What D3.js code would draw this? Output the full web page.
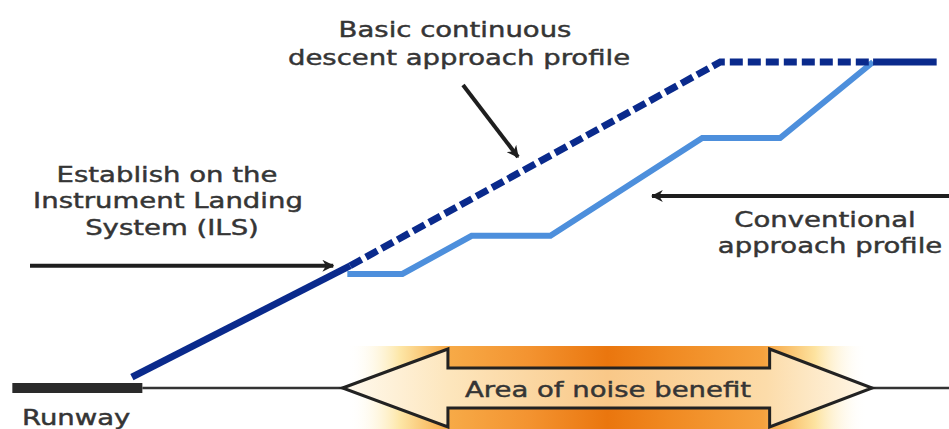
<!DOCTYPE html>
<html>
<head>
<meta charset="utf-8">
<script src="https://cdn.jsdelivr.net/npm/d3@7"></script>
<style>
  body { margin: 0; background: #fff; }
  svg { display: block; }
</style>
</head>
<body>
<div id="chart"></div>
<script>
// Width and height
var w = 949;
var h = 429;

// horizontal position: distance along the approach (0-100), altitude in feet
var cdaDist = [13.9, 36.9, 75.9, 92.0, 98.7];
var cdaAlt  = [200, 2250, 6000, 6000, 6000];

var convDist = [36.6, 42.4, 49.7, 58.0, 74.0, 82.2, 92.0];
var convAlt  = [2100, 2100, 2800, 2800, 4600, 4600, 6000];

var runway = [1.3, 15.0];
var groundEnd = 100;
var noiseArea = [36.1, 47.2, 81.1, 91.9];   // left tip, left head base, right head base, right tip

var cdaLabel = ["Basic continuous", "descent approach profile"];
var ilsLabel = ["Establish on the", "Instrument Landing", "System (ILS)"];
var convLabel = ["Conventional", "approach profile"];
var noiseLabel = "Area of noise benefit";
var runwayLabel = "Runway";

var x = d3.scaleLinear().domain([0, 100]).range([0, w]);
var y = d3.scaleLinear().domain([0, 6000]).range([388, 62]);

var svg = d3.select("#chart")
            .append("svg")
            .attr("width", w)
            .attr("height", h);

var defs = svg.append("defs");

// orange band behind the double arrow
var band = defs.append("linearGradient").attr("id", "band");
[[0, "#ffffff", 0], [0.1, "#fde7a8", 1], [0.19, "#f7ab48", 1], [0.35, "#f39330", 1],
 [0.5, "#ea760e", 1], [0.62, "#f08a22", 1], [0.8, "#f6a23e", 1], [0.9, "#fde3a0", 1], [1, "#ffffff", 0]]
  .forEach(function(s) {
    band.append("stop").attr("offset", s[0]).attr("stop-color", s[1]).attr("stop-opacity", s[2]);
  });

var fill = defs.append("linearGradient").attr("id", "arrowFill");
[[0, "#fffaf0"], [0.2, "#fde6bd"], [0.5, "#f9c888"], [0.8, "#fcdcaa"], [1, "#fff8ea"]]
  .forEach(function(s) {
    fill.append("stop").attr("offset", s[0]).attr("stop-color", s[1]);
  });

defs.append("marker")
    .attr("id", "head")
    .attr("viewBox", "0 0 10 10")
    .attr("refX", 9).attr("refY", 5)
    .attr("markerWidth", 3).attr("markerHeight", 3)
    .attr("orient", "auto")
    .append("path")
    .attr("d", "M0,0 L10,5 L0,10 L3,5 Z")
    .attr("fill", "#1e1e1e");

// noise benefit band + double arrow
var gy = y(0);
svg.append("rect")
   .attr("x", x(noiseArea[0]) + 5)
   .attr("y", gy - 42)
   .attr("width", x(noiseArea[3]) - x(noiseArea[0]) - 10)
   .attr("height", h - (gy - 42))
   .attr("fill", "url(#band)");

// ground line
svg.append("line")
   .attr("x1", x(runway[1])).attr("x2", x(groundEnd))
   .attr("y1", gy).attr("y2", gy)
   .attr("stroke", "#333").attr("stroke-width", 2.5);

var headH = 39, shaftH = 20;
var arrowPts = [
  [x(noiseArea[0]), gy],
  [x(noiseArea[1]), gy - headH],
  [x(noiseArea[1]), gy - shaftH],
  [x(noiseArea[2]), gy - shaftH],
  [x(noiseArea[2]), gy - headH],
  [x(noiseArea[3]), gy],
  [x(noiseArea[2]), gy + headH],
  [x(noiseArea[2]), gy + shaftH],
  [x(noiseArea[1]), gy + shaftH],
  [x(noiseArea[1]), gy + headH]
];
svg.append("polygon")
   .attr("points", arrowPts.map(function(p) { return p.join(","); }).join(" "))
   .attr("fill", "url(#arrowFill)")
   .attr("stroke", "#222")
   .attr("stroke-width", 3)
   .attr("stroke-linejoin", "miter");

// runway
svg.append("line")
   .attr("x1", x(runway[0])).attr("x2", x(runway[1]))
   .attr("y1", gy).attr("y2", gy)
   .attr("stroke", "#2a2a2a").attr("stroke-width", 10);

var line = d3.line()
   .x(function(d) { return x(d[0]); })
   .y(function(d) { return y(d[1]); });

// conventional profile
var conv = convDist.map(function(d, i) { return [d, convAlt[i]]; });
svg.append("path")
   .attr("d", line(conv))
   .attr("fill", "none")
   .attr("stroke", "#4d8fdc")
   .attr("stroke-width", 6)
   .attr("stroke-linejoin", "miter");

// continuous descent profile: ILS segment solid, CDA dashed, level flight solid
var cda = cdaDist.map(function(d, i) { return [d, cdaAlt[i]]; });
var segs = [
  { pts: cda.slice(0, 2), dash: null },
  { pts: cda.slice(1, 4), dash: "13,5" },
  { pts: cda.slice(3, 5), dash: null }
];
svg.selectAll("path.cda")
   .data(segs)
   .enter()
   .append("path")
   .attr("class", "cda")
   .attr("d", function(d) { return line(d.pts); })
   .attr("fill", "none")
   .attr("stroke", "#0a2a8c")
   .attr("stroke-width", 7)
   .attr("stroke-dasharray", function(d) { return d.dash; });

// pointer arrows
var ilsX = x(cdaDist[1]), ilsY = y(cdaAlt[1]);
var arrows = [
  [30, ilsY, ilsX - 17, ilsY],
  [463, 85, 518, 157],
  [w, 196, 652, 196]
];
svg.selectAll("line.ptr")
   .data(arrows)
   .enter()
   .append("line")
   .attr("class", "ptr")
   .attr("x1", function(d) { return d[0]; })
   .attr("y1", function(d) { return d[1]; })
   .attr("x2", function(d) { return d[2]; })
   .attr("y2", function(d) { return d[3]; })
   .attr("stroke", "#1e1e1e")
   .attr("stroke-width", 4)
   .attr("marker-end", "url(#head)");

// labels (stretched horizontally like the original artwork)
var labels = [
  { t: cdaLabel[0], x: 455, y: 37, a: "middle" },
  { t: cdaLabel[1], x: 459, y: 65, a: "middle" },
  { t: ilsLabel[0], x: 167, y: 182, a: "middle" },
  { t: ilsLabel[1], x: 168, y: 208, a: "middle" },
  { t: ilsLabel[2], x: 172, y: 235, a: "middle" },
  { t: convLabel[0], x: 825, y: 227, a: "middle" },
  { t: convLabel[1], x: 830, y: 253, a: "middle" },
  { t: noiseLabel, x: 608, y: 397, a: "middle" },
  { t: runwayLabel, x: 22, y: 425, a: "start" }
];
svg.selectAll("text")
   .data(labels)
   .enter()
   .append("text")
   .text(function(d) { return d.t; })
   .attr("text-anchor", function(d) { return d.a; })
   .attr("transform", function(d) { return "translate(" + d.x + "," + d.y + ") scale(1.28,1)"; })
   .attr("font-family", "DejaVu Sans, Verdana, sans-serif")
   .attr("font-size", "21.5px")
   .attr("fill", "#353535")
   .attr("stroke", "#353535")
   .attr("stroke-width", 0.45);
</script>
</body>
</html>
